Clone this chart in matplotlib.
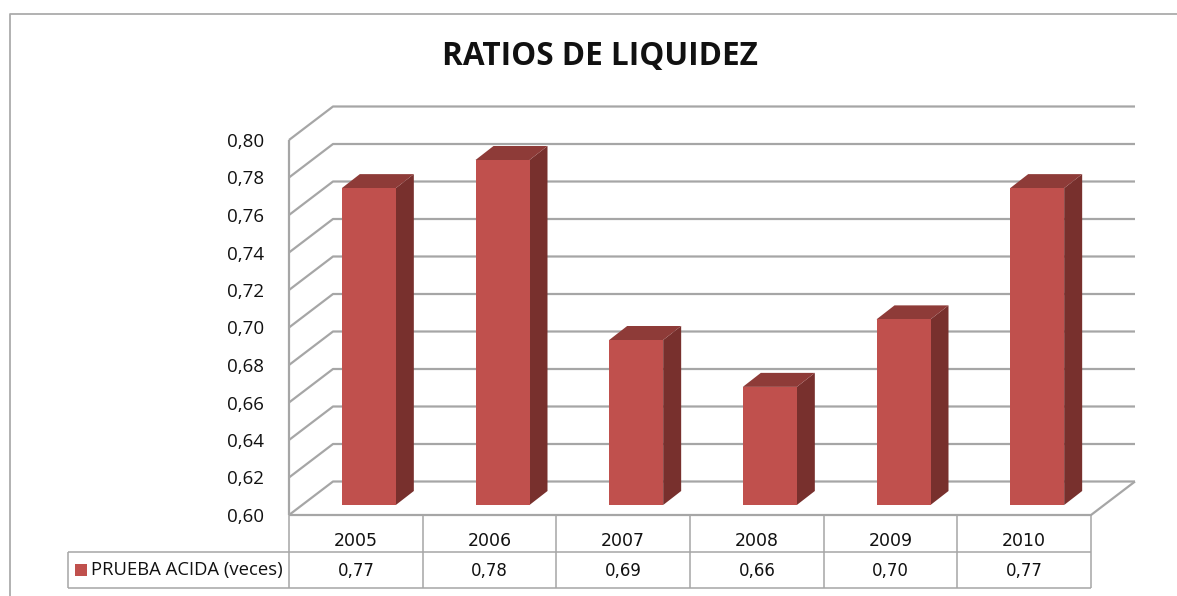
import matplotlib
matplotlib.use('Agg')
import matplotlib.pyplot as plt
from matplotlib.patches import Rectangle, Polygon

plt.rcParams['font.family'] = ['Open Sans', 'DejaVu Sans']

years = ['2005', '2006', '2007', '2008', '2009', '2010']
values = [0.769, 0.784, 0.688, 0.663, 0.699, 0.769]
table_labels = ['0,77', '0,78', '0,69', '0,66', '0,70', '0,77']
ticks = [0.60, 0.62, 0.64, 0.66, 0.68, 0.70, 0.72, 0.74, 0.76, 0.78, 0.80]
series_name = 'PRUEBA ACIDA (veces)'

W, H = 1177, 596
grid_color = '#A6A6A6'
front_color = '#C0504D'
top_color = '#8E3B38'
side_color = '#78302D'

fig = plt.figure(figsize=(W / 100, H / 100), dpi=100, facecolor='white')

# outer chart frame: only left and top edges show in the crop
fig.add_artist(plt.Line2D([10 / W, 10 / W, 1], [0, 1 - 14 / H, 1 - 14 / H], transform=fig.transFigure,
                          color='#ABABAB', lw=1.3))

# axes = front plane of the fake 3D box
left, right, y0, y80 = 289, 1091, 515, 140
ax = fig.add_axes([left / W, 1 - y0 / H, (right - left) / W, (y0 - y80) / H])
ax.set_xlim(0, 6)
ax.set_ylim(0.60, 0.80)
ax.axis('off')

px_x = 6 / (right - left)
px_y = 0.20 / (y0 - y80)
depth_x = 44 * px_x
depth_y = 33.5 * px_y


def line(xs, ys, lw=1.6):
    ax.plot(xs, ys, color=grid_color, lw=lw, clip_on=False, zorder=1, solid_capstyle='butt')


# walls and gridlines
for t in ticks:
    line([0, depth_x, 6 + depth_x], [t, t + depth_y, t + depth_y])
    ax.text(-25 * px_x, t - 2 * px_y, f'{t:.2f}'.replace('.', ','), ha='right', va='center',
            fontsize=13.5, color='#111111')
line([0, 0], [0.60, 0.80])
line([0, 6, 6 + depth_x], [0.60, 0.60, 0.60 + depth_y])

# bars, the whole bar sits 10 px in front of the floor edge
bar_w = 54 * px_x
bar_dx = 18 * px_x
bar_dy = 14 * px_y
lift = 10 * px_y
bar_bottom = 0.60 + lift
bar_off = 13 * px_x
for i, v in enumerate(values):
    x0 = i + 0.5 + bar_off - bar_w / 2
    x1 = x0 + bar_w
    top = v + lift
    ax.add_patch(Polygon([(x1, bar_bottom), (x1 + bar_dx, bar_bottom + bar_dy),
                          (x1 + bar_dx, top + bar_dy), (x1, top)],
                         closed=True, fc=side_color, ec='none', clip_on=False, zorder=3))
    ax.add_patch(Polygon([(x0, top), (x1, top), (x1 + bar_dx, top + bar_dy), (x0 + bar_dx, top + bar_dy)],
                         closed=True, fc=top_color, ec='none', clip_on=False, zorder=3))
    ax.add_patch(Rectangle((x0, bar_bottom), bar_w, top - bar_bottom, fc=front_color, ec='none',
                           clip_on=False, zorder=4))

# data table under the plot
row1 = 0.60 - 37 * px_y
row2 = 0.60 - 73 * px_y
leg_x = -221 * px_x
for i in range(7):
    line([i, i], [0.60, row2], lw=1.1)
line([leg_x, 6], [row1, row1], lw=1.1)
line([leg_x, 6], [row2, row2], lw=1.1)
line([leg_x, leg_x], [row1, row2], lw=1.1)
for i, (yr, lab) in enumerate(zip(years, table_labels)):
    ax.text(i + 0.5, (0.60 + row1) / 2 - 8 * px_y, yr, ha='center', va='center', fontsize=12.5,
            color='#111111', family='DejaVu Sans')
    ax.text(i + 0.5, (row1 + row2) / 2 - 1 * px_y, lab, ha='center', va='center', fontsize=12,
            color='#111111', family='DejaVu Sans')

ax.add_patch(Rectangle((leg_x + 7 * px_x, (row1 + row2) / 2 - 6 * px_y), 12 * px_x, 12 * px_y,
                       fc=front_color, ec='none', clip_on=False))
ax.text(leg_x + 23 * px_x, (row1 + row2) / 2, series_name, ha='left', va='center', fontsize=13.3, color='#111111')

fig.text(599.5 / W, 1 - 57 / H, 'RATIOS DE LIQUIDEZ', ha='center', va='center',
         fontsize=22.7, fontweight='bold', color='#111111')

fig.savefig('out.png', dpi=100)
